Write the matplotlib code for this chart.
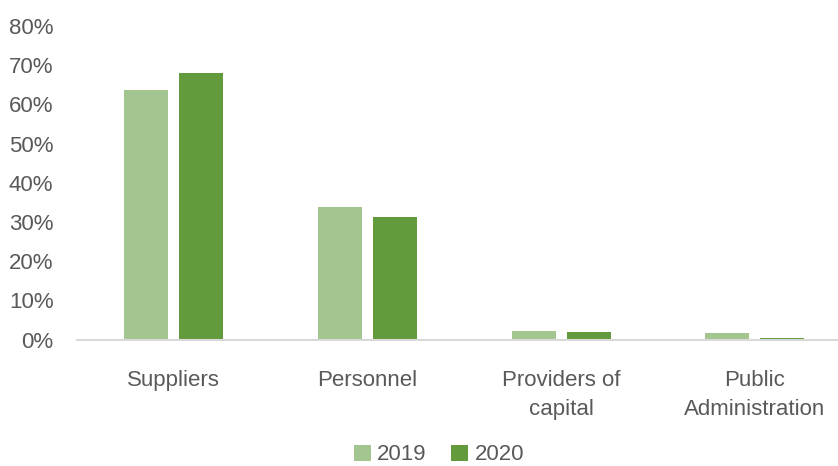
import numpy as np
import matplotlib.pyplot as plt
from matplotlib.ticker import PercentFormatter

categories = ["Suppliers", "Personnel", "Providers of\ncapital", "Public\nAdministration"]
values_2019 = [63.7, 33.8, 2.2, 1.7]
values_2020 = [68.0, 31.2, 1.9, 0.4]
series_labels = ["2019", "2020"]

light_green = "#A3C58F"
dark_green = "#629A3C"
text_gray = "#595959"

plt.rcParams["font.family"] = ["Liberation Sans", "DejaVu Sans"]

fig = plt.figure(figsize=(8.38, 4.66), dpi=100)
ax = fig.add_axes([77 / 838, 1 - 339.5 / 466, 1 - 77 / 838, (339.5 - 26) / 466])

x = np.arange(len(categories))
width = 0.227
offset = 0.142
ax.bar(x - offset, values_2019, width, color=light_green, label=series_labels[0])
ax.bar(x + offset, values_2020, width, color=dark_green, label=series_labels[1])

ax.set_xlim(-0.5, 3.43)
ax.set_ylim(0, 80)
ax.set_yticks(np.arange(0, 81, 10))
ax.yaxis.set_major_formatter(PercentFormatter(decimals=0))
ax.set_xticks(x)
ax.set_xticklabels(categories, linespacing=1.5)

for side in ["top", "right", "left"]:
    ax.spines[side].set_visible(False)
ax.spines["bottom"].set_color("#D9D9D9")
ax.spines["bottom"].set_linewidth(1.5)

ax.tick_params(axis="y", length=0, pad=17, labelsize=16, labelcolor=text_gray)
ax.tick_params(axis="x", length=0, pad=22, labelsize=16, labelcolor=text_gray)

fig.legend(loc="center", bbox_to_anchor=(439 / 838, 1 - 455 / 466), ncol=2,
           frameon=False, fontsize=16, labelcolor=text_gray,
           handlelength=0.75, handleheight=0.75, handletextpad=0.3, columnspacing=1.1)

fig.savefig("out.png", dpi=100)
